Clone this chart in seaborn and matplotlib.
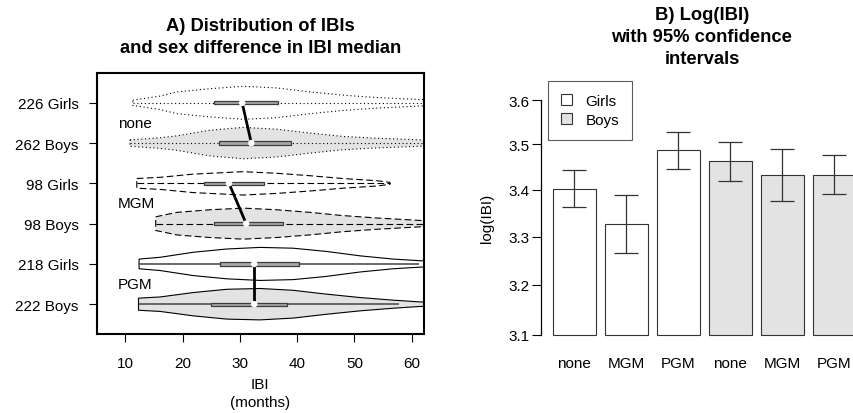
import numpy as np
import pandas as pd
import matplotlib
matplotlib.use("Agg")
import matplotlib.pyplot as plt
from matplotlib.patches import Patch, Rectangle
from matplotlib.ticker import FixedLocator, FixedFormatter, NullLocator
import seaborn as sns

# ---------------- data: panel A (violins) ----------------
row_labels = ["226 Girls", "262 Boys", "98 Girls", "98 Boys", "218 Girls", "222 Boys"]
row_groups = ["none", "none", "MGM", "MGM", "PGM", "PGM"]
row_sex = ["Girls", "Boys", "Girls", "Boys", "Girls", "Boys"]

# violin outlines: IBI grid (months) and half-width (in row units)
vx_girls_none = [11.3, 16.0, 19.0, 24.8, 30.6, 36.4, 42.2, 48.0, 54.0, 61.4, 65.0]
vw_girls_none = [0.066, 0.165, 0.27, 0.35, 0.41, 0.37, 0.27, 0.19, 0.13, 0.08, 0.07]
vx_boys_none = [10.8, 16.0, 19.0, 24.8, 30.6, 36.4, 42.2, 48.0, 54.0, 61.4, 65.0]
vw_boys_none = [0.08, 0.13, 0.18, 0.32, 0.39, 0.345, 0.25, 0.165, 0.12, 0.08, 0.07]
vx_girls_mgm = [12.0, 16.1, 21.9, 27.7, 30.6, 36.4, 42.2, 48.0, 53.9, 56.2]
vw_girls_mgm = [0.12, 0.15, 0.23, 0.27, 0.29, 0.25, 0.19, 0.12, 0.066, 0.025]
vx_boys_mgm = [15.3, 19.0, 24.8, 30.6, 36.4, 42.2, 48.0, 53.9, 61.4, 65.0]
vw_boys_mgm = [0.17, 0.28, 0.345, 0.385, 0.345, 0.28, 0.2, 0.14, 0.08, 0.06]
vx_girls_pgm = [12.4, 16.1, 21.9, 27.7, 33.5, 39.3, 45.1, 51.0, 56.8, 61.4, 65.0]
vw_girls_pgm = [0.12, 0.165, 0.29, 0.37, 0.41, 0.39, 0.31, 0.2, 0.12, 0.08, 0.06]
vx_boys_pgm = [12.3, 16.1, 21.9, 27.7, 33.5, 39.3, 45.1, 51.0, 56.8, 61.4, 65.0]
vw_boys_pgm = [0.15, 0.18, 0.29, 0.37, 0.39, 0.345, 0.25, 0.165, 0.10, 0.057, 0.05]

violin_x = [vx_girls_none, vx_boys_none, vx_girls_mgm, vx_boys_mgm, vx_girls_pgm, vx_boys_pgm]
violin_w = [vw_girls_none, vw_boys_none, vw_girls_mgm, vw_boys_mgm, vw_girls_pgm, vw_boys_pgm]

medians = [30.4, 32.0, 28.1, 31.1, 32.5, 32.5]
q1 = [25.4, 26.4, 23.8, 25.4, 26.5, 24.9]
q3 = [36.7, 38.9, 34.2, 37.5, 40.3, 38.2]
whisk_lo = [11.3, 10.8, 12.0, 15.3, 12.4, 12.3]
whisk_hi = [65.0, 65.0, 56.2, 65.0, 61.3, 57.8]

x_ticks_a = [10, 20, 30, 40, 50, 60]

# ---------------- data: panel B (bars) ----------------
bar_groups = ["none", "MGM", "PGM", "none", "MGM", "PGM"]
bar_sex = ["Girls", "Girls", "Girls", "Boys", "Boys", "Boys"]
log_ibi = [3.402, 3.326, 3.487, 3.462, 3.433, 3.433]
ci_lo = [3.363, 3.265, 3.445, 3.418, 3.375, 3.390]
ci_hi = [3.443, 3.388, 3.528, 3.506, 3.490, 3.477]
y_ticks_b = [3.1, 3.2, 3.3, 3.4, 3.5, 3.6]

# ---------------- style ----------------
sns.set_style("white")
plt.rcParams["font.family"] = ["Liberation Sans", "DejaVu Sans"]
plt.rcParams["lines.solid_capstyle"] = "butt"
for k in ["text.color", "axes.labelcolor", "xtick.color", "ytick.color", "axes.edgecolor"]:
    plt.rcParams[k] = "black"

FS = 11.0
FT = 13.2

W, H = 854, 414
fig = plt.figure(figsize=(W / 100, H / 100), dpi=100)

def fx(px):
    return px / W

def fy(py):
    return 1 - py / H

# ---------------- panel A ----------------
axA = fig.add_axes([fx(96.7), fy(335.0), fx(424.0 - 96.7), (335.0 - 74.0) / H])
axA.set_xlim(5.0, 62.15)
axA.set_ylim(0.26, 6.74)

styles = {"none": (0, (1.0, 2.4)), "MGM": (0, (6, 3)), "PGM": "solid"}
fills = {"Girls": "white", "Boys": "#e3e3e3"}
ypos = [6 - i for i in range(6)]

for i in range(6):
    xs = np.array(violin_x[i])
    ws = np.array(violin_w[i])
    yc = ypos[i]
    poly_x = np.concatenate([xs, xs[::-1]])
    poly_y = np.concatenate([yc + ws, (yc - ws)[::-1]])
    ls = styles[row_groups[i]]
    axA.fill(poly_x, poly_y, facecolor=fills[row_sex[i]], edgecolor="black",
             linestyle=ls, linewidth=0.8, zorder=2)
    if row_groups[i] == "PGM":
        axA.plot([whisk_lo[i], whisk_hi[i]], [yc, yc], color="#505050", lw=1.2, zorder=3)
    else:
        axA.plot([whisk_lo[i], whisk_hi[i]], [yc, yc], color="black", lw=0.8,
                 linestyle=ls, zorder=3)
    axA.add_patch(Rectangle((q1[i], yc - 0.042), q3[i] - q1[i], 0.084,
                            facecolor="#a8a8a8", edgecolor="#3c3c3c", lw=0.9, zorder=4))

for g in range(3):
    i, j = 2 * g, 2 * g + 1
    axA.plot([medians[i], medians[j]], [ypos[i], ypos[j]], color="black", lw=2.0,
             zorder=5, solid_capstyle="butt")
axA.scatter(medians, ypos, s=22, color="white", edgecolor="none", zorder=6)

for g, yy in zip(["none", "MGM", "PGM"], [5.5, 3.5, 1.5]):
    axA.text(8.7, yy, g, ha="left", va="center", fontsize=FS, zorder=7)

axA.set_yticks(ypos)
axA.set_yticklabels(row_labels, fontsize=FS)
axA.set_xticks(x_ticks_a)
axA.set_xticklabels([str(v) for v in x_ticks_a], fontsize=FS)
axA.tick_params(axis="y", direction="out", length=6, width=0.8, pad=7, left=True)
axA.tick_params(axis="x", direction="out", length=6, width=0.8, pad=10, bottom=True)
for s in axA.spines.values():
    s.set_visible(True)
    s.set_linewidth(1.5)
    s.set_color("black")

fig.text(fx(260.4), fy(31), "A) Distribution of IBIs", ha="center", va="baseline",
         fontsize=FT, fontweight="bold")
fig.text(fx(260.4), fy(53), "and sex difference in IBI median", ha="center", va="baseline",
         fontsize=FT, fontweight="bold")
fig.text(fx(260.4), fy(389), "IBI", ha="center", va="baseline", fontsize=FS)
fig.text(fx(260.4), fy(407), "(months)", ha="center", va="baseline", fontsize=FS)

# ---------------- panel B ----------------
axB = fig.add_axes([fx(540.6), fy(335.7), fx(867.9 - 540.6), (335.7 - 101.0) / H])
df = pd.DataFrame({
    "key": [f"{s}-{g}" for s, g in zip(bar_sex, bar_groups)],
    "sex": bar_sex,
    "group": bar_groups,
    "log_ibi": log_ibi,
})
sns.barplot(data=df, x="key", y="log_ibi", hue="sex", dodge=False,
            palette={"Girls": "white", "Boys": "#e3e3e3"}, edgecolor="#333333",
            linewidth=0.8, width=0.833, errorbar=None, legend=False, ax=axB)
axB.set_yscale("log")
for p in axB.patches:
    h = p.get_height()
    if h > 0:
        p.set_y(3.1)
        p.set_height(h - 3.1)
        p.set_clip_on(False)

vals = np.array(log_ibi)
axB.errorbar(np.arange(len(vals)), vals,
             yerr=[vals - np.array(ci_lo), np.array(ci_hi) - vals],
             fmt="none", ecolor="#333333", elinewidth=0.9, capsize=8.3, capthick=0.9,
             zorder=5)
axB.set_xlim(-0.65, 5.644)
axB.set_ylim(3.1, 3.6)
axB.yaxis.set_major_locator(FixedLocator(y_ticks_b))
axB.yaxis.set_major_formatter(FixedFormatter([f"{v:.1f}" for v in y_ticks_b]))
axB.yaxis.set_minor_locator(NullLocator())
axB.set_xticks(range(6))
axB.set_xticklabels(bar_groups, fontsize=FS)
axB.tick_params(axis="x", length=0, pad=15)
axB.tick_params(axis="y", direction="out", length=6.5, width=0.8, pad=1.5, left=True,
                labelsize=FS)
axB.set_xlabel("")
axB.set_ylabel("")
for k in ["top", "right", "bottom"]:
    axB.spines[k].set_visible(False)
axB.spines["left"].set_bounds(3.1, 3.6)
axB.spines["left"].set_linewidth(0.9)
axB.spines["left"].set_color("black")
axB.set_facecolor("none")

fig.text(fx(487), fy(218), "log(IBI)", rotation=90, ha="center", va="center", fontsize=FS)
fig.text(fx(702), fy(20), "B) Log(IBI)", ha="center", va="baseline", fontsize=FT, fontweight="bold")
fig.text(fx(702), fy(42), "with 95% confidence", ha="center", va="baseline", fontsize=FT, fontweight="bold")
fig.text(fx(702), fy(64), "intervals", ha="center", va="baseline", fontsize=FT, fontweight="bold")

handles = [Patch(facecolor="white", edgecolor="#333333", lw=0.8),
           Patch(facecolor="#e3e3e3", edgecolor="#333333", lw=0.8)]
leg = fig.legend(handles, ["Girls", "Boys"], loc="upper left",
                 bbox_to_anchor=(fx(548), fy(82)), frameon=True, fancybox=False,
                 edgecolor="#333333", borderaxespad=0, handlelength=0.7, handleheight=0.7,
                 handletextpad=0.9, borderpad=0.85, labelspacing=0.3, fontsize=FS)
leg.get_frame().set_linewidth(0.8)

fig.savefig("out.png", dpi=100)
